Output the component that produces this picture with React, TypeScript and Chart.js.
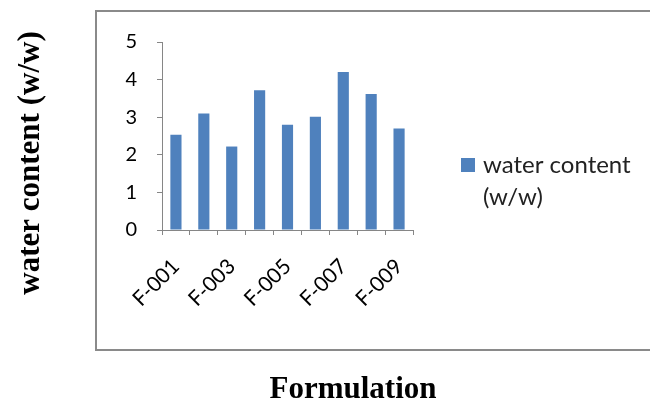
import React, { useEffect, useRef } from "react";
import { Chart, registerables } from "chart.js";

Chart.register(...registerables);

const categories = ["F-001", "F-002", "F-003", "F-004", "F-005", "F-006", "F-007", "F-008", "F-009"];
const waterContent = [2.53, 3.1, 2.22, 3.72, 2.8, 3.01, 4.2, 3.62, 2.7];
const seriesLabel = "water content (w/w)";
const legendLines = ["water content", "(w/w)"];
const yTitle = "water content (w/w)";
const xTitle = "Formulation";
const yMin = 0;
const yMax = 5;

const BAR = "#4F81BD";
const AXIS = "#868686";
const FONT = "Lato, 'Liberation Sans', sans-serif";

const decor = {
  id: "decor",
  beforeDraw(chart: any) {
    const ctx = chart.ctx;
    ctx.save();
    ctx.fillStyle = "#ffffff";
    ctx.fillRect(0, 0, chart.width, chart.height);
    ctx.strokeStyle = "#8a8a8a";
    ctx.lineWidth = 2;
    ctx.strokeRect(96, 11, 600, 339);
    ctx.restore();
  },
  afterDraw(chart: any) {
    const ctx = chart.ctx;
    ctx.save();
    ctx.fillStyle = BAR;
    ctx.fillRect(461, 158, 14, 14);
    ctx.fillStyle = "#222";
    ctx.font = `24px ${FONT}`;
    ctx.textBaseline = "middle";
    ctx.textAlign = "left";
    ctx.fillText(legendLines[0], 483, 165);
    ctx.fillText(legendLines[1], 483, 197);
    ctx.fillStyle = "#000";
    ctx.font = "bold 31px 'Liberation Serif', 'DejaVu Serif', serif";
    ctx.textAlign = "center";
    ctx.fillText(xTitle, 353, 390);
    ctx.translate(31, 163);
    ctx.rotate(-Math.PI / 2);
    ctx.fillText(yTitle, 0, 0);
    ctx.restore();
  },
};

export default function App() {
  const ref = useRef<HTMLCanvasElement | null>(null);
  useEffect(() => {
    document.body.style.margin = "0";
    if (!ref.current) return;
    const chart = new Chart(ref.current, {
      type: "bar",
      data: {
        labels: categories,
        datasets: [
          {
            label: seriesLabel,
            data: waterContent,
            backgroundColor: BAR,
            borderWidth: 0,
            barPercentage: 0.4,
            categoryPercentage: 1,
          },
        ],
      },
      options: {
        responsive: false,
        animation: false,
        devicePixelRatio: 1,
        layout: { padding: { left: 102, right: 237, top: 42, bottom: 96 } },
        plugins: { legend: { display: false }, tooltip: { enabled: false } },
        scales: {
          x: {
            afterFit: (s: any) => {
              s.height = 80;
            },
            border: { display: true, color: AXIS, width: 1 },
            grid: { display: true, drawOnChartArea: false, drawTicks: true, tickLength: 5, color: AXIS, offset: true },
            ticks: {
              autoSkip: false,
              minRotation: 45,
              maxRotation: 45,
              color: "#000",
              font: { family: FONT, size: 21 },
              padding: 19,
              callback: (_v: any, i: number) => (i % 2 === 0 ? categories[i] : ""),
            },
          },
          y: {
            min: yMin,
            max: yMax,
            afterFit: (s: any) => {
              s.width = 60;
            },
            border: { display: true, color: AXIS, width: 1 },
            grid: { display: true, drawOnChartArea: false, drawTicks: true, tickLength: 5, color: AXIS },
            ticks: { stepSize: 1, color: "#000", font: { family: FONT, size: 20 }, padding: 20 },
          },
        },
      },
      plugins: [decor],
    });
    return () => chart.destroy();
  }, []);
  return (
    <div style={{ position: "absolute", left: 0, top: 0, width: 650, height: 406 }}>
      <canvas ref={ref} width={650} height={406} style={{ width: 650, height: 406 }} />
    </div>
  );
}
